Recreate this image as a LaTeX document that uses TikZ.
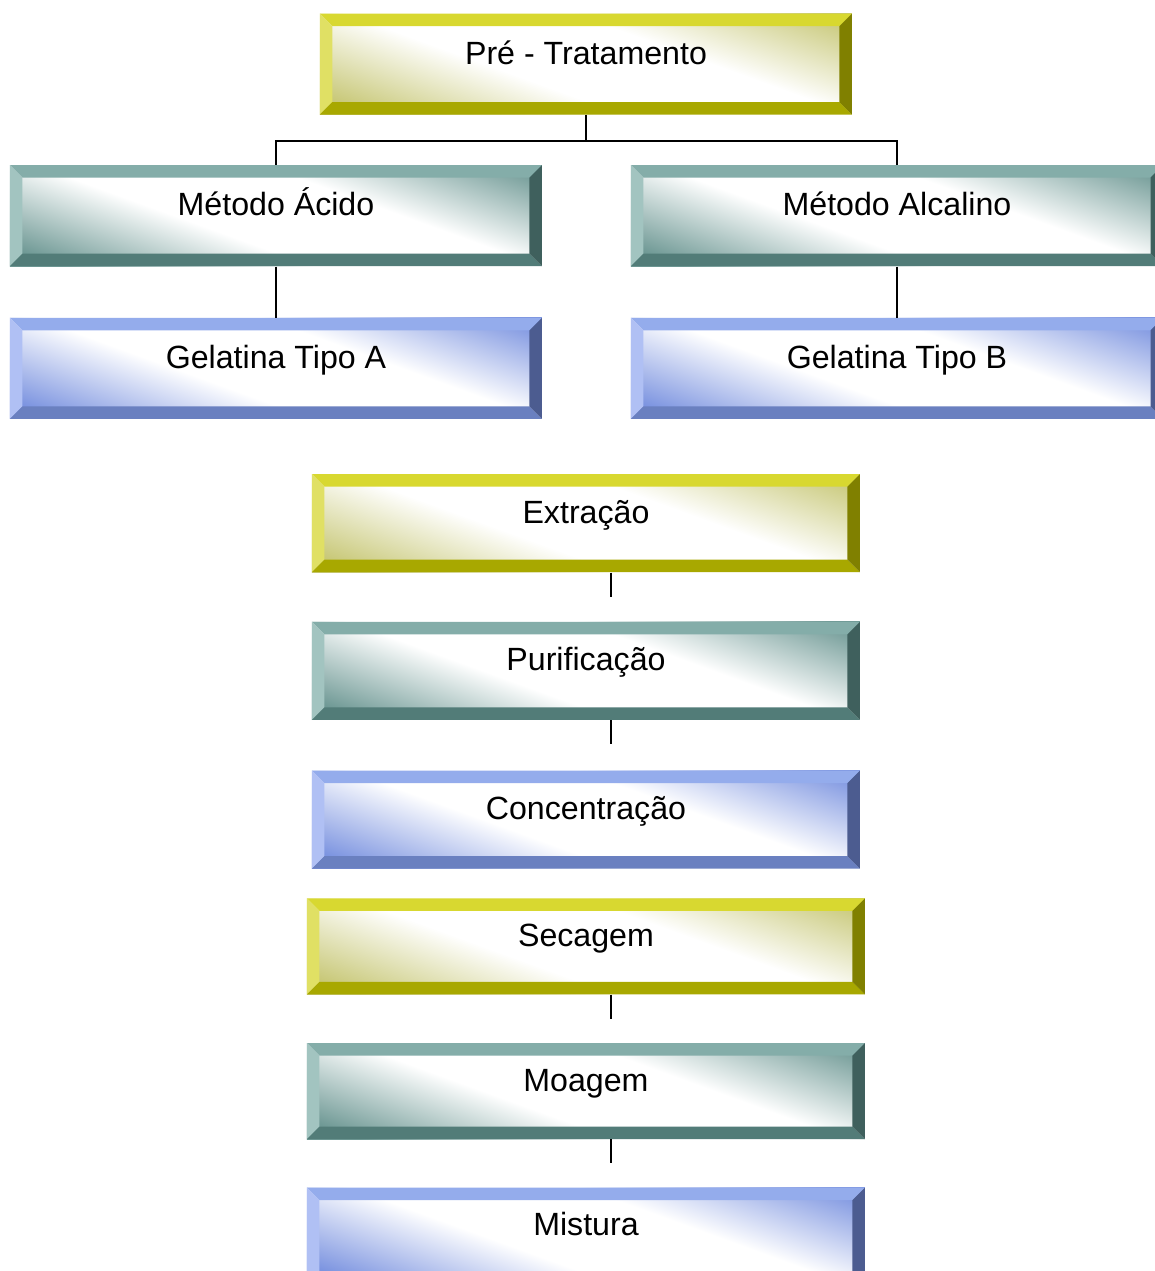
\documentclass[tikz,border=0pt]{standalone}
\usepackage{fontspec}
\setmainfont{Liberation Sans}
\usetikzlibrary{positioning}

\definecolor{yelT}{HTML}{D8D830}
\definecolor{yelL}{HTML}{E0E064}
\definecolor{yelB}{HTML}{A8A800}
\definecolor{yelR}{HTML}{808000}
\definecolor{yelF}{HTML}{C8C878}
\definecolor{tealT}{HTML}{84ADA9}
\definecolor{tealL}{HTML}{A2C4C0}
\definecolor{tealB}{HTML}{527C78}
\definecolor{tealR}{HTML}{3F605D}
\definecolor{tealF}{HTML}{6F9995}
\definecolor{bluT}{HTML}{94ACEC}
\definecolor{bluL}{HTML}{B0C0F4}
\definecolor{bluB}{HTML}{6A80C0}
\definecolor{bluR}{HTML}{4C5C90}
\definecolor{bluF}{HTML}{7C94E0}

\pgfdeclareverticalshading{yelface}{100bp}{color(0bp)=(yelF); color(22bp)=(yelF); color(42bp)=(white); color(60bp)=(white); color(80bp)=(yelF); color(100bp)=(yelF)}
\pgfdeclareverticalshading{tealface}{100bp}{color(0bp)=(tealF); color(22bp)=(tealF); color(42bp)=(white); color(60bp)=(white); color(80bp)=(tealF); color(100bp)=(tealF)}
\pgfdeclareverticalshading{bluface}{100bp}{color(0bp)=(bluF); color(22bp)=(bluF); color(42bp)=(white); color(60bp)=(white); color(80bp)=(bluF); color(100bp)=(bluF)}

\newcommand{\bevw}{0.25cm}

\tikzset{
  bevel/.style n args={4}{path picture={
    \fill[#1] (path picture bounding box.north west) -- (path picture bounding box.north east)
      -- ([shift={(-\bevw,-\bevw)}]path picture bounding box.north east)
      -- ([shift={(\bevw,-\bevw)}]path picture bounding box.north west) -- cycle;
    \fill[#2] (path picture bounding box.north west) -- (path picture bounding box.south west)
      -- ([shift={(\bevw,\bevw)}]path picture bounding box.south west)
      -- ([shift={(\bevw,-\bevw)}]path picture bounding box.north west) -- cycle;
    \fill[#3] (path picture bounding box.south west) -- (path picture bounding box.south east)
      -- ([shift={(-\bevw,\bevw)}]path picture bounding box.south east)
      -- ([shift={(\bevw,\bevw)}]path picture bounding box.south west) -- cycle;
    \fill[#4] (path picture bounding box.north east) -- (path picture bounding box.south east)
      -- ([shift={(-\bevw,\bevw)}]path picture bounding box.south east)
      -- ([shift={(-\bevw,-\bevw)}]path picture bounding box.north east) -- cycle;
  }}
}

\begin{document}
\begin{tikzpicture}[
  box/.style={inner sep=0pt, text height=0.36cm, text depth=0.36cm, font=\fontsize{18.3}{22}\selectfont},
  yelbox/.style={box, shading=yelface, shading angle=-20, bevel={yelT}{yelL}{yelB}{yelR}},
  tealbox/.style={box, shading=tealface, shading angle=-20, bevel={tealT}{tealL}{tealB}{tealR}},
  bluebox/.style={box, shading=bluface, shading angle=-20, bevel={bluT}{bluL}{bluB}{bluR}},
  sz1/.style={minimum width=10.64cm, minimum height=2.02cm},
  sz2/.style={minimum width=10.96cm, minimum height=1.96cm},
  sz3/.style={minimum width=11.16cm, minimum height=1.92cm},
  conn/.style={line width=1.1pt}
]
\useasboundingbox (-11.72,1.28) rectangle (11.36,-24.14);

% tratamento e metodos
\node[yelbox, sz1] (pre) {Pré - Tratamento};
\node[tealbox, sz1, below=1cm of pre, xshift=-6.2cm] (acido) {Método Ácido};
\node[tealbox, sz1, below=1cm of pre, xshift=6.22cm] (alcal) {Método Alcalino};
\node[bluebox, sz1, below=1.02cm of acido] (gelA) {Gelatina Tipo A};
\node[bluebox, sz1, below=1.02cm of alcal] (gelB) {Gelatina Tipo B};

% etapas
\node[yelbox, sz2, below=7.18cm of pre] (extr) {Extração};
\node[tealbox, sz2, below=0.98cm of extr] (purif) {Purificação};
\node[bluebox, sz2, below=1cm of purif] (conc) {Concentração};
\node[yelbox, sz3, below=0.58cm of conc] (secag) {Secagem};
\node[tealbox, sz3, below=0.96cm of secag] (moag) {Moagem};
\node[bluebox, sz3, below=0.96cm of moag] (mist) {Mistura};

\coordinate[below=0.52cm of pre] (split);
\draw[conn] (pre.south) -- (split) -| (acido.north);
\draw[conn] (split) -| (alcal.north);
\draw[conn] (acido) -- (gelA);
\draw[conn] (alcal) -- (gelB);

\foreach \n in {extr, purif, secag, moag}
  \draw[conn] ([xshift=0.5cm]\n.south) -- ++(0,-0.48cm);
\end{tikzpicture}
\end{document}
